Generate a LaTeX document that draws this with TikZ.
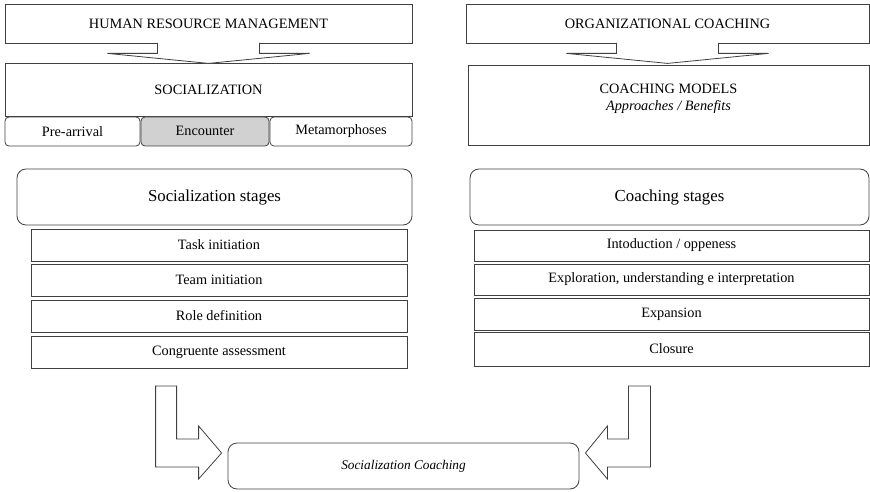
\documentclass[tikz,border=0pt]{standalone}
\usepackage{fontspec}
\setmainfont{Liberation Serif}
\usetikzlibrary{calc}
\usetikzlibrary{positioning}
\tikzstyle{titlebox} = [draw=black!75, line width=0.8pt, inner sep=0pt, align=center, font=\fontsize{14.3}{17}\selectfont]
\tikzstyle{phasebox} = [titlebox, rounded corners=4pt]
\tikzstyle{stagehead} = [titlebox, rounded corners=9pt, font=\fontsize{16.8}{20}\selectfont]
\tikzstyle{stagebox} = [titlebox]
\tikzstyle{blockarrow} = [draw=black!75, line width=0.8pt, fill=white]
\tikzstyle{colorEnc} = [fill=black!18]

\begin{document}
\begin{tikzpicture}[x=1pt, y=1pt]
    \useasboundingbox (0,0) rectangle (870,491);
    % left column
    \node[titlebox, minimum width=407pt, minimum height=39pt] (hrm) at (208.5,467.5) {HUMAN RESOURCE MANAGEMENT};
    \node[titlebox, minimum width=407pt, minimum height=53pt] (soc) at (208.5,401.5) {SOCIALIZATION};
    \node[phasebox, minimum width=135pt, minimum height=29pt] (pre) at (72.5,359.5) {Pre-arrival};
    \node[phasebox, colorEnc, minimum width=128pt, minimum height=29pt] (enc) at (205,359.5) {\raisebox{2pt}{Encounter}};
    \node[phasebox, minimum width=142pt, minimum height=29pt] (meta) at (341,359.5) {Metamorphoses};
    \node[stagehead, minimum width=395pt, minimum height=56pt] (soc_stages) at (214.5,294) {Socialization stages};
    \node[stagebox, minimum width=376pt, minimum height=32pt] (task) at (219,246) {Task initiation};
    \node[stagebox, minimum width=376pt, minimum height=32pt] (team) at ($(task)+(0,-35)$) {Team initiation};
    \node[stagebox, minimum width=376pt, minimum height=32pt] (role) at ($(team)+(0,-36)$) {Role definition};
    \node[stagebox, minimum width=376pt, minimum height=32pt] (cong) at ($(role)+(0,-36)$) {Congruente assessment};
    % right column
    \node[titlebox, minimum width=403pt, minimum height=39pt] (org) at (667.5,467.5) {ORGANIZATIONAL COACHING};
    \node[titlebox, minimum width=401pt, minimum height=80pt] (models) at (668.5,386) {};
    \node[align=center, inner sep=0pt, font=\fontsize{14.3}{17}\selectfont] (models_txt) at ($(models)+(0,6.5)$)
{COACHING MODELS\\\textit{Approaches / Benefits}};
    \node[stagehead, minimum width=399pt, minimum height=56pt] (coach_stages) at (669.5,294) {Coaching stages};
    \node[stagebox, minimum width=395pt, minimum height=31pt] (intro) at (671.5,245.5) {Intoduction / oppeness};
    \node[stagebox, minimum width=395pt, minimum height=31pt] (explo) at ($(intro)+(0,-34)$) {Exploration, understanding e interpretation};
    \node[stagebox, minimum width=395pt, minimum height=32pt] (expan) at ($(explo)+(0,-34.5)$) {Expansion};
    \node[stagebox, minimum width=395pt, minimum height=34pt] (closure) at ($(expan)+(0,-35)$) {Closure};
    % result
    \node[stagehead, font=\fontsize{13.3}{16}\selectfont\itshape, minimum width=351pt, minimum height=46pt] (sc) at (403.5,25)
{Socialization Coaching};
    % down arrows
    \foreach \src in {hrm, org}
        \draw[blockarrow] ($(\src.south)+(-51,0.6)$) -- ++(0,-10.6) -- ++(-50,0) -- ($(\src.south)+(0,-20)$)
            -- ($(\src.south)+(101,-10)$) -- ($(\src.south)+(51,-10)$) -- ++(0,10.6);
    % bent arrows into the result
    \draw[blockarrow] ($(sc.west)+(-6,13)$) -- ++(-23,27) -- ++(0,-13) -- ++(-22,0) -- ++(0,53) -- ++(-21,0)
        -- ++(0,-81) -- ++(43,0) -- ++(0,-12) -- cycle;
    \draw[blockarrow] ($(sc.east)+(6,13)$) -- ++(22,27) -- ++(0,-13) -- ++(21,0) -- ++(0,53) -- ++(22,0)
        -- ++(0,-81) -- ++(-43,0) -- ++(0,-12) -- cycle;
\end{tikzpicture}
\end{document}
